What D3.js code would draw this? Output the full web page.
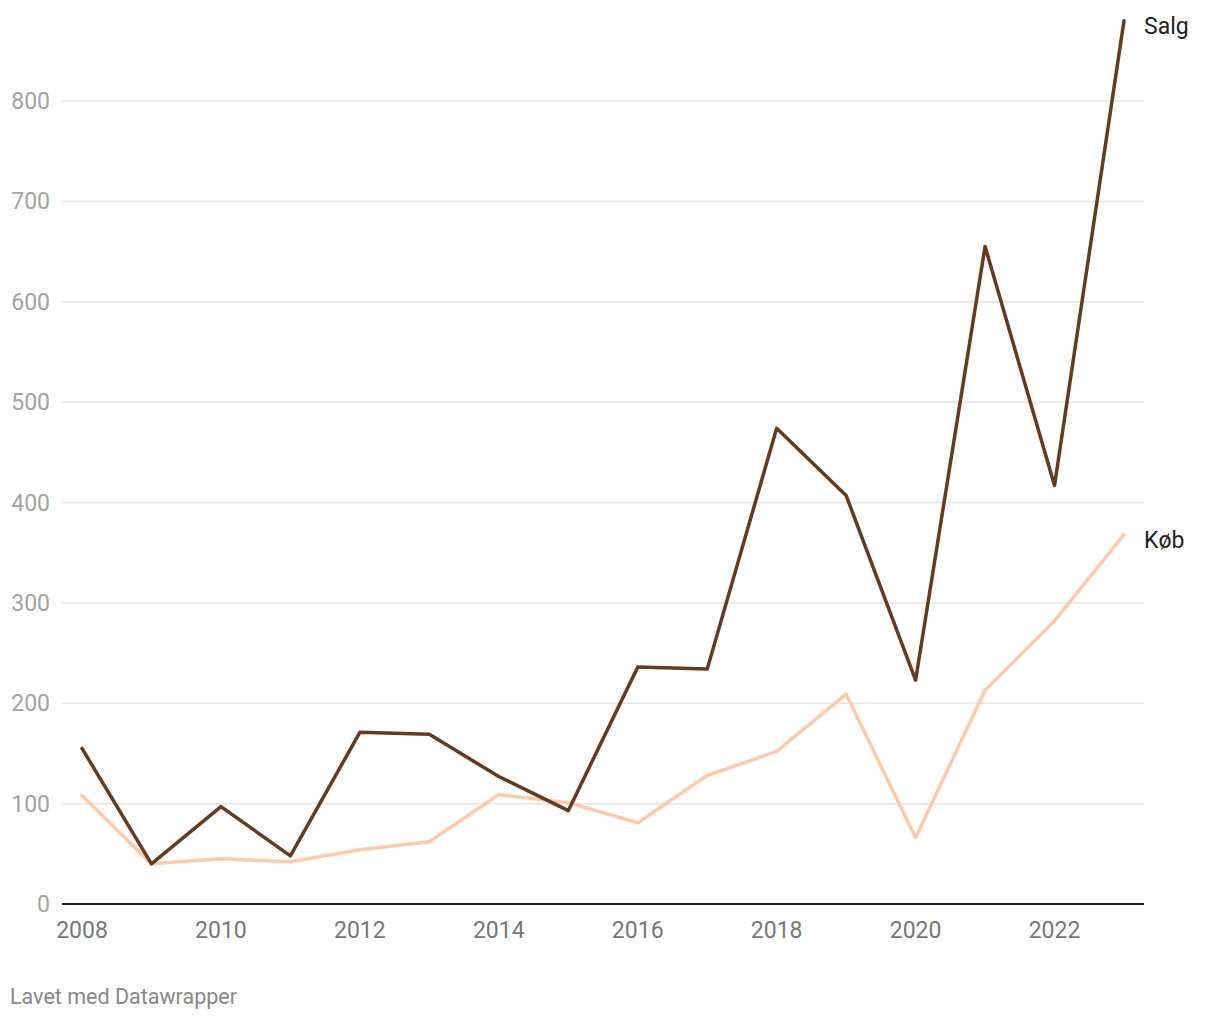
<!DOCTYPE html>
<html>
<head>
  <meta charset="utf-8">
  <script src="https://d3js.org/d3.v7.min.js"></script>
  <style>
    body { margin: 0; background: #fff; font-family: Roboto, sans-serif; }
  </style>
</head>
<body>
  <div id="chart"></div>
  <script>
    var years = [2008, 2009, 2010, 2011, 2012, 2013, 2014, 2015, 2016, 2017, 2018, 2019, 2020, 2021, 2022, 2023];
    var salg = [155, 40, 97, 48, 171, 169, 127, 93, 236, 234, 474, 407, 223, 655, 417, 880];
    var koeb = [108, 40, 45, 42, 54, 62, 109, 101, 81, 128, 152, 209, 66, 213, 282, 368];
    var yTicks = [0, 100, 200, 300, 400, 500, 600, 700, 800];
    var xTicks = [2008, 2010, 2012, 2014, 2016, 2018, 2020, 2022];

    var series = [
      {name: "Salg", values: salg, color: "#633b1f"},
      {name: "Køb", values: koeb, color: "#ffcaa8"}
    ];

    var W = 1220, H = 1020;
    var svg = d3.select("#chart").append("svg")
      .attr("width", W)
      .attr("height", H);

    var x = d3.scaleLinear().domain([2008, 2023]).range([82, 1124]);
    var y = d3.scaleLinear().domain([0, 800]).range([904, 101]);

    // gridlines + y labels
    var gy = svg.append("g");
    gy.selectAll("line")
      .data(yTicks.filter(function(d) { return d > 0; }))
      .enter().append("line")
      .attr("x1", 62).attr("x2", 1144)
      .attr("y1", function(d) { return y(d); })
      .attr("y2", function(d) { return y(d); })
      .attr("stroke", "#e3e3e3")
      .attr("stroke-width", 1.5);

    gy.selectAll("text")
      .data(yTicks)
      .enter().append("text")
      .attr("x", 50)
      .attr("y", function(d) { return y(d); })
      .attr("dy", "0.35em")
      .attr("text-anchor", "end")
      .attr("fill", "#a3a3a3")
      .style("font-size", "23px")
      .text(function(d) { return d; });

    // baseline
    svg.append("line")
      .attr("x1", 62).attr("x2", 1144)
      .attr("y1", y(0)).attr("y2", y(0))
      .attr("stroke", "#1d1d1d")
      .attr("stroke-width", 2);

    // x labels
    svg.append("g").selectAll("text")
      .data(xTicks)
      .enter().append("text")
      .attr("x", function(d) { return x(d); })
      .attr("y", 938)
      .attr("text-anchor", "middle")
      .attr("fill", "#777")
      .style("font-size", "23px")
      .text(function(d) { return d; });

    var line = d3.line()
      .x(function(d, i) { return x(years[i]); })
      .y(function(d) { return y(d); });

    // draw Køb first so Salg sits on top
    series.slice().reverse().forEach(function(s) {
      svg.append("path")
        .datum(s.values)
        .attr("fill", "none")
        .attr("stroke", s.color)
        .attr("stroke-width", 3.5)
        .attr("stroke-linejoin", "round")
        .attr("stroke-linecap", "round")
        .attr("d", line);

      var last = s.values[s.values.length - 1];
      svg.append("text")
        .attr("x", 1144)
        .attr("y", y(last) + 5)
        .attr("dy", "0.35em")
        .attr("fill", "#222")
        .style("font-size", "23px")
        .text(s.name);
    });

    svg.append("text")
      .attr("x", 10)
      .attr("y", 1004)
      .attr("fill", "#888")
      .style("font-size", "21.5px")
      .text("Lavet med Datawrapper");
  </script>
</body>
</html>
